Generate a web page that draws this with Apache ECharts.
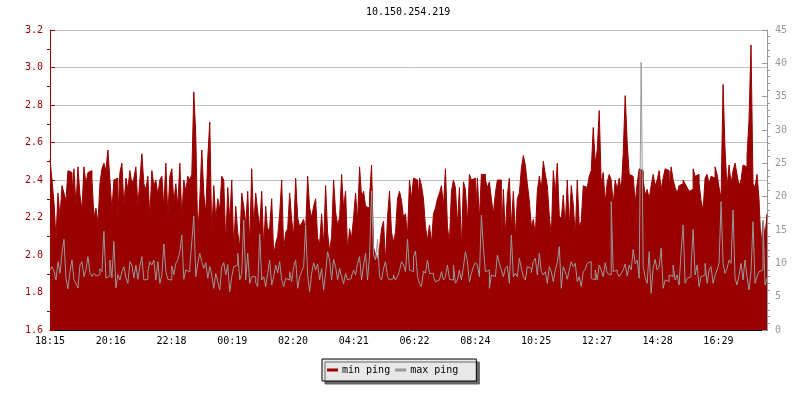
<!DOCTYPE html>
<html>
<head>
<meta charset="utf-8">
<title>10.150.254.219</title>
<script src="https://cdn.jsdelivr.net/npm/echarts@6/dist/echarts.min.js"></script>
<style>
  html, body { margin: 0; padding: 0; background: #fff; }
  #chart { width: 800px; height: 400px; }
</style>
</head>
<body>
<div id="chart"></div>
<script>
// time labels on the x axis (every ~2h01m from 18:15)
const xLabels = ['18:15', '20:16', '22:18', '00:19', '02:20', '04:21', '06:22', '08:24', '10:25', '12:27', '14:28', '16:29'];
const tickStep = 121.7;      // minutes between labels
const sampleMinutes = 4;     // one sample every 4 minutes
const spanMinutes = 1436;

const leftTicks = [1.6, 1.8, 2.0, 2.2, 2.4, 2.6, 2.8, 3.0, 3.2];
const rightTicks = [0, 5, 10, 15, 20, 25, 30, 35, 40, 45];

// min ping (ms) - left axis
const minPing = [
  2.51, 2.40, 2.28, 2.09, 2.33, 2.20, 2.37, 2.33, 2.29, 2.45,
  2.44, 2.33, 2.46, 2.26, 2.47, 2.32, 2.24, 2.47, 2.38, 2.44,
  2.45, 2.41, 2.20, 2.25, 2.17, 2.38, 2.46, 2.49, 2.45, 2.56,
  2.40, 2.24, 2.40, 2.41, 2.20, 2.44, 2.49, 2.26, 2.41, 2.35,
  2.45, 2.38, 2.41, 2.47, 2.26, 2.40, 2.54, 2.38, 2.35, 2.42,
  2.20, 2.45, 2.37, 2.40, 2.32, 2.40, 2.42, 2.26, 2.49, 2.21,
  2.42, 2.46, 2.28, 2.38, 2.26, 2.49, 2.20, 2.40, 2.34, 2.42,
  2.40,
  2.43, 2.87, 2.64, 2.10, 2.30, 2.56, 2.33, 2.22, 2.52, 2.71,
  2.10, 2.37, 2.19, 2.30, 2.24, 2.42, 2.40, 2.06, 2.36, 2.18,
  2.40, 2.04, 2.26, 2.12, 2.04, 2.33, 2.26, 2.16, 2.34, 2.05,
  2.46, 2.15, 2.33, 2.23, 2.15, 2.34, 2.04, 2.26, 2.12, 2.15,
  2.30, 2.00, 2.06, 2.10, 2.22, 2.40, 2.03, 2.12, 2.14, 2.33,
  2.19, 2.10, 2.41, 2.20, 2.15, 2.17, 2.19, 2.13, 2.42, 2.25,
  2.20, 2.26, 2.30, 2.09, 2.06, 2.22, 2.05, 2.37, 2.12, 2.02,
  2.10, 2.40, 2.23,
  2.16, 2.20, 2.43, 2.25, 2.34, 2.02, 2.14, 2.09, 2.20, 2.33,
  2.18, 2.47, 2.31, 2.34, 2.26, 2.25, 2.31, 2.48, 2.04, 2.00,
  1.97, 2.04, 2.14, 2.18, 1.96, 2.20, 2.34, 2.12, 2.07, 2.12,
  2.30, 2.34, 2.29, 2.20, 2.22, 2.10, 2.40, 2.30, 2.41, 2.40,
  2.26, 2.41, 2.37, 2.30, 2.15, 2.08, 2.16, 2.06, 2.22, 2.25,
  2.30, 2.33, 2.37, 2.26, 2.46, 2.15, 2.07, 2.34, 2.40, 2.36,
  2.16, 2.36, 2.04, 2.39, 2.35, 2.17, 2.43, 2.40, 2.41, 2.20,
  2.41, 2.19,
  2.43, 2.43, 2.40, 2.36, 2.39, 2.30, 2.22, 2.33, 2.40, 2.40,
  2.05, 2.35, 2.11, 2.32, 2.41, 2.15, 2.34, 2.10, 2.30, 2.33,
  2.46, 2.53, 2.48, 2.38, 2.29, 2.15, 2.19, 2.11, 2.34, 2.42,
  2.35, 2.50, 2.43, 2.37, 2.21, 2.10, 2.45, 2.33, 2.49, 2.21,
  2.19, 2.32, 2.15, 2.40, 2.15, 2.37, 2.27, 2.10, 2.40, 2.15,
  2.18, 2.37, 2.36, 2.35, 2.42, 2.45, 2.68, 2.49, 2.56, 2.77,
  2.38, 2.44, 2.28, 2.39, 2.43, 2.40, 2.27, 2.40, 2.35, 2.41,
  2.34, 2.54,
  2.85, 2.60, 2.43, 2.42, 2.43, 2.28, 2.38, 2.46, 2.45, 2.40,
  2.32, 2.35, 2.30, 2.37, 2.43, 2.37, 2.40, 2.45, 2.35, 2.41,
  2.46, 2.45, 2.36, 2.47, 2.40, 2.36, 2.33, 2.37, 2.38, 2.40,
  2.38, 2.36, 2.34, 2.35, 2.46, 2.42, 2.43, 2.38, 2.29, 2.24,
  2.41, 2.43, 2.38, 2.42, 2.41, 2.47, 2.43, 2.36, 2.30, 2.91,
  2.56, 2.36, 2.48, 2.38, 2.45, 2.49, 2.43, 2.37, 2.40, 2.48,
  2.47, 2.53, 2.72, 3.12, 2.38, 2.36, 2.43, 2.30, 2.05, 2.18,
  2.10, 2.22
];

// max ping (ms) - right axis
const maxPing = [
  9.0, 9.5, 8.8, 7.5, 10.25, 8.5, 11.5, 13.6, 7.7, 6.2,
  8.75, 10.5, 7.6, 7.0, 6.3, 9.75, 10.25, 8.0, 9.0, 11.0,
  8.6, 8.0, 8.5, 8.1, 8.3, 9.2, 8.75, 14.8, 7.8, 8.1,
  10.5, 7.8, 13.3, 6.3, 8.3, 7.5, 8.75, 9.5, 7.8, 7.0,
  10.25, 9.75, 7.8, 9.75, 7.6, 9.5, 11.0, 7.5, 7.6, 8.75,
  10.25, 9.75, 10.5, 7.5, 10.25, 7.0, 8.2, 12.9, 8.8, 7.6,
  7.5, 9.6, 8.3, 10.0, 10.5, 11.75, 14.25, 7.6, 9.0, 8.75,
  9.5,
  13.3, 17.1, 8.0, 10.0, 11.5, 10.25, 9.25, 10.1, 7.75, 9.5,
  8.25, 6.25, 8.5, 7.25, 6.0, 9.5, 10.1, 8.25, 9.8, 5.75,
  8.0, 9.5, 9.75, 11.5, 7.5, 8.5, 16.5, 7.5, 11.5, 7.0,
  8.0, 8.0, 7.1, 6.5, 14.4, 7.5, 8.0, 6.5, 8.5, 10.5,
  6.75, 8.0, 9.75, 8.6, 10.25, 7.5, 6.5, 7.75, 7.5, 8.75,
  7.25, 9.5, 10.5, 6.25, 8.0, 8.75, 9.5, 15.75, 8.25, 5.75,
  8.5, 10.1, 9.0, 9.9, 7.5, 9.25, 6.0, 8.5, 11.75, 10.5,
  7.5, 10.6, 9.5,
  7.5, 9.25, 8.0, 6.9, 8.5, 7.5, 7.75, 8.1, 9.0, 8.25,
  10.0, 11.0, 7.5, 9.75, 11.5, 7.5, 11.1, 20.85, 11.25, 10.5,
  13.6, 8.0, 7.5, 9.25, 10.25, 8.0, 7.5, 7.75, 8.25, 7.5,
  8.0, 8.9, 10.25, 9.75, 8.75, 13.6, 9.0, 8.75, 11.0, 11.85,
  8.0, 7.0, 6.5, 8.85, 8.5, 10.5, 8.5, 8.5, 8.0, 7.25,
  7.5, 7.75, 8.75, 7.5, 8.0, 9.75, 7.6, 7.5, 9.75, 7.0,
  7.5, 9.0, 7.5, 9.5, 11.75, 10.25, 7.25, 8.5, 9.5, 10.1,
  9.75, 8.0,
  17.25, 12.35, 8.75, 9.0, 6.25, 8.25, 8.0, 8.0, 11.25, 10.0,
  9.0, 8.0, 9.25, 9.6, 7.0, 14.25, 8.0, 8.5, 8.0, 10.75,
  9.25, 8.0, 7.5, 9.5, 9.25, 8.6, 10.25, 10.75, 8.25, 11.5,
  8.75, 8.25, 8.75, 7.0, 9.5, 8.75, 7.25, 9.0, 10.1, 12.5,
  6.25, 9.5, 8.75, 7.6, 9.0, 10.25, 9.5, 10.0, 7.25, 8.0,
  6.5, 8.75, 9.1, 10.0, 10.25, 7.75, 7.5, 9.0, 7.5, 9.75,
  9.0, 8.0, 10.1, 8.5, 8.25, 19.25, 8.75, 9.0, 8.5, 8.0,
  8.5, 9.0,
  9.9, 8.1, 9.75, 9.0, 12.1, 9.9, 10.5, 7.75, 40.15, 9.5,
  7.9, 7.0, 11.75, 5.5, 9.25, 10.6, 9.0, 9.5, 12.25, 6.25,
  7.5, 7.25, 8.25, 8.0, 9.75, 7.5, 8.25, 6.75, 11.85, 15.75,
  7.0, 7.75, 8.0, 9.5, 15.1, 8.25, 9.75, 6.5, 8.0, 8.25,
  10.0, 7.0, 9.0, 9.5, 7.0, 8.25, 9.0, 10.0, 19.25, 10.0,
  8.5, 9.25, 10.5, 10.0, 18.0, 7.75, 6.75, 8.25, 10.0, 7.5,
  10.5, 8.0, 6.0, 8.75, 16.25, 7.0, 8.0, 8.75, 9.0, 16.5,
  6.75, 7.75
];

const red = '#990000';
const grey = '#999999';
const monoFont = '"DejaVu Sans Mono", monospace';

const chart = echarts.init(document.getElementById('chart'), null, { renderer: 'canvas' });

const xTickValues = xLabels.map((_, k) => k * tickStep);

const option = {
  animation: false,
  backgroundColor: '#ffffff',
  textStyle: { fontFamily: monoFont },
  title: {
    text: '10.150.254.219',
    left: 366,
    top: 7,
    padding: 0,
    textStyle: { fontFamily: monoFont, fontSize: 10, fontWeight: 'normal', color: '#000' }
  },
  grid: { left: 50, right: 33, top: 30, bottom: 70 },
  legend: {
    left: 322,
    top: 359,
    orient: 'horizontal',
    itemWidth: 11,
    itemHeight: 3,
    itemGap: 5,
    icon: 'rect',
    padding: [6, 18, 6, 5],
    backgroundColor: '#e8e8e8',
    borderColor: '#000',
    borderWidth: 1,
    borderRadius: 0,
    shadowColor: '#666',
    shadowBlur: 0,
    shadowOffsetX: 3,
    shadowOffsetY: 3,
    textStyle: { fontFamily: monoFont, fontSize: 10, color: '#000', padding: [0, 0, 0, -1] },
    data: [
      { name: 'min ping', itemStyle: { color: red } },
      { name: 'max ping', itemStyle: { color: grey } }
    ]
  },
  xAxis: {
    type: 'value',
    min: 0,
    max: spanMinutes,
    axisLine: { onZero: false, lineStyle: { color: '#000', width: 1 } },
    axisTick: { inside: true, length: 5, lineStyle: { color: '#000' }, customValues: xTickValues },
    axisLabel: {
      margin: 6,
      color: '#000',
      fontFamily: monoFont,
      fontSize: 10,
      customValues: xTickValues,
      formatter: v => xLabels[Math.round(v / tickStep)] || ''
    },
    splitLine: { show: false }
  },
  yAxis: [
    {
      type: 'value',
      position: 'left',
      min: leftTicks[0],
      max: leftTicks[leftTicks.length - 1],
      interval: 0.2,
      axisLine: { show: true, lineStyle: { color: red } },
      axisTick: { show: true, inside: true, length: 5, lineStyle: { color: red } },
      minorTick: { show: true, splitNumber: 2, length: -3, lineStyle: { color: red } },
      axisLabel: {
        margin: 7,
        color: red,
        fontFamily: monoFont,
        fontSize: 10,
        formatter: v => v.toFixed(1)
      },
      splitLine: { show: true, lineStyle: { color: '#c0c0c0', width: 1 } }
    },
    {
      type: 'value',
      position: 'right',
      min: rightTicks[0],
      max: rightTicks[rightTicks.length - 1],
      interval: 5,
      axisLine: { show: true, lineStyle: { color: grey } },
      axisTick: { show: true, inside: true, length: 5, lineStyle: { color: grey } },
      minorTick: { show: true, splitNumber: 5, length: -3, lineStyle: { color: grey } },
      axisLabel: { margin: 8, color: grey, fontFamily: monoFont, fontSize: 10 },
      splitLine: { show: false }
    }
  ],
  series: [
    {
      name: 'min ping',
      type: 'line',
      yAxisIndex: 0,
      step: 'end',
      showSymbol: false,
      symbol: 'none',
      data: minPing.map((v, i) => [i * sampleMinutes, v]),
      lineStyle: { color: red, width: 1 },
      itemStyle: { color: red },
      areaStyle: { color: red, opacity: 1, origin: 'start' },
      z: 2
    },
    {
      name: 'max ping',
      type: 'line',
      yAxisIndex: 1,
      step: 'end',
      showSymbol: false,
      symbol: 'none',
      data: maxPing.map((v, i) => [i * sampleMinutes, v]),
      lineStyle: { color: grey, width: 1 },
      itemStyle: { color: grey },
      z: 3
    }
  ]
};

chart.setOption(option);
</script>
</body>
</html>
